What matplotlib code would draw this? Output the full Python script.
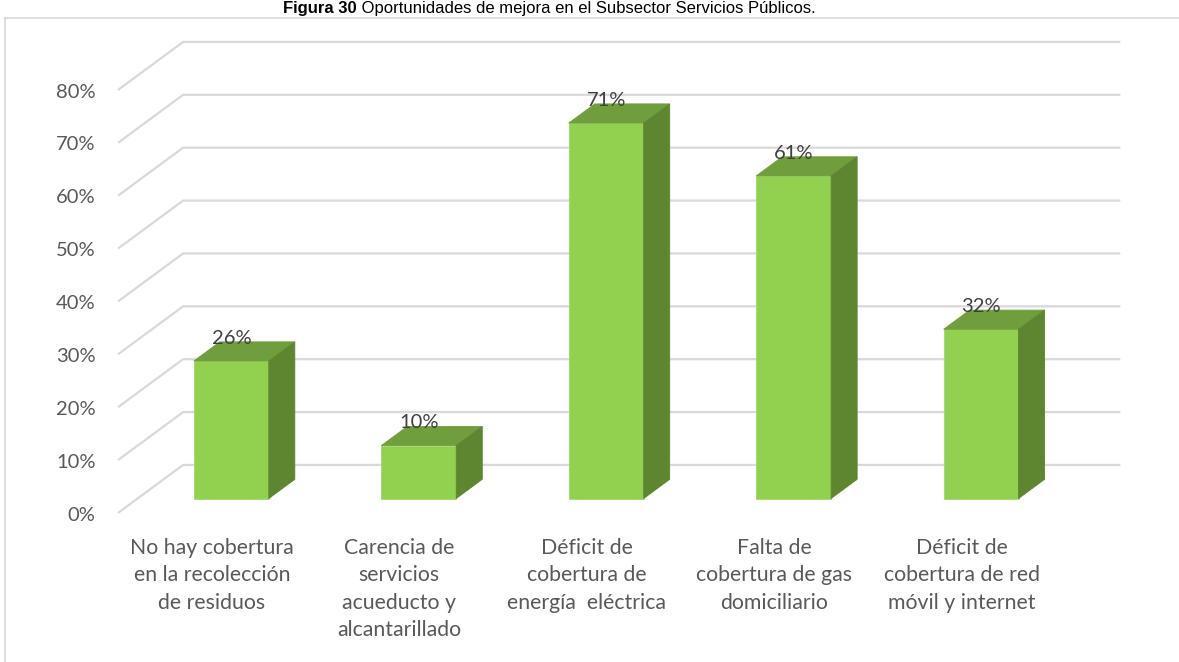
import matplotlib
matplotlib.use("Agg")
import matplotlib.pyplot as plt
from matplotlib.patches import Polygon
from matplotlib.lines import Line2D

# data
categorias = [
    "No hay cobertura\nen la recolección\nde residuos",
    "Carencia de\nservicios\nacueducto y\nalcantarillado",
    "Déficit de\ncobertura de\nenergía  eléctrica",
    "Falta de\ncobertura de gas\ndomiciliario",
    "Déficit de\ncobertura de red\nmóvil y internet",
]
valores = [26, 10, 71, 61, 32]
ticks_y = [0, 10, 20, 30, 40, 50, 60, 70, 80]
titulo_negrita = "Figura 30"
titulo_resto = " Oportunidades de mejora en el Subsector Servicios Públicos."

# 3d look: depth offset in data units (x in categories, y in percent)
DX, DY = 0.347, 9.07
FRONT, BACK = 0.3, 0.7   # bar position inside the depth
HALF_W = 0.2

c_front = "#92D050"
c_top = "#709E3C"
c_side = "#5E8530"
c_grid = "#D9D9D9"

plt.rcParams["font.family"] = ["Lato", "DejaVu Sans"]

fig = plt.figure(figsize=(11.79, 6.62), dpi=100)
ax = fig.add_axes([0, 0, 1, 1])
ax.set_xlim(-1.13, 5.16)
ax.set_ylim(-28.2, 97.0)
ax.axis("off")

n = len(categorias)
x_left = -0.5
x_right = n - 0.5

# back wall gridlines with the diagonal on the floor side
for t in ticks_y:
    ax.plot([x_left, x_left + DX, x_right + DX], [t, t + DY, t + DY],
            color=c_grid, lw=1.6, zorder=1, solid_capstyle="butt")
    ax.text(x_left - 0.12, t - 0.4, f"{t}%", ha="right", va="center",
            fontsize=14.5, color="#595959")

# bars
for i, v in enumerate(valores):
    x0 = i - HALF_W + FRONT * DX
    x1 = i + HALF_W + FRONT * DX
    y0 = FRONT * DY
    y1 = v + FRONT * DY
    ddx = (BACK - FRONT) * DX
    ddy = (BACK - FRONT) * DY
    front = Polygon([(x0, y0), (x1, y0), (x1, y1), (x0, y1)],
                    closed=True, fc=c_front, ec="#A3D86A", lw=0.6, zorder=3)
    top = Polygon([(x0, y1), (x1, y1), (x1 + ddx, y1 + ddy), (x0 + ddx, y1 + ddy)],
                  closed=True, fc=c_top, ec=c_top, lw=0.6, zorder=3)
    side = Polygon([(x1, y0), (x1 + ddx, y0 + ddy), (x1 + ddx, y1 + ddy), (x1, y1)],
                   closed=True, fc=c_side, ec=c_side, lw=0.6, zorder=3)
    for p in (front, top, side):
        ax.add_patch(p)
    ax.text((x0 + x1) / 2, y1 + 4.3, f"{v}%", ha="center", va="center",
            fontsize=14.5, color="#404040", zorder=4)

# category labels
for i, c in enumerate(categorias):
    ax.text(i, -4.7, c, ha="center", va="top", fontsize=15.3,
            color="#595959", linespacing=1.47, multialignment="center")

# chart border (only left and top visible)
fig.add_artist(Line2D([5 / 1179, 5 / 1179], [0, 1 - 18 / 662], color=c_grid, lw=1.2))
fig.add_artist(Line2D([5 / 1179, 1], [1 - 18 / 662, 1 - 18 / 662], color=c_grid, lw=1.2))

# title at the very top
renderer = fig.canvas.get_renderer()
ty = 1 - 13 / 662
t1 = fig.text(283 / 1179, ty, titulo_negrita, ha="left", va="baseline",
              fontsize=12, fontweight="bold", family="Liberation Sans", color="black")
bb = t1.get_window_extent(renderer=renderer)
fig.text(bb.x1 / 1179, ty, titulo_resto, ha="left", va="baseline",
         fontsize=12, family="Liberation Sans", color="black")

fig.savefig("out.png", dpi=100)
